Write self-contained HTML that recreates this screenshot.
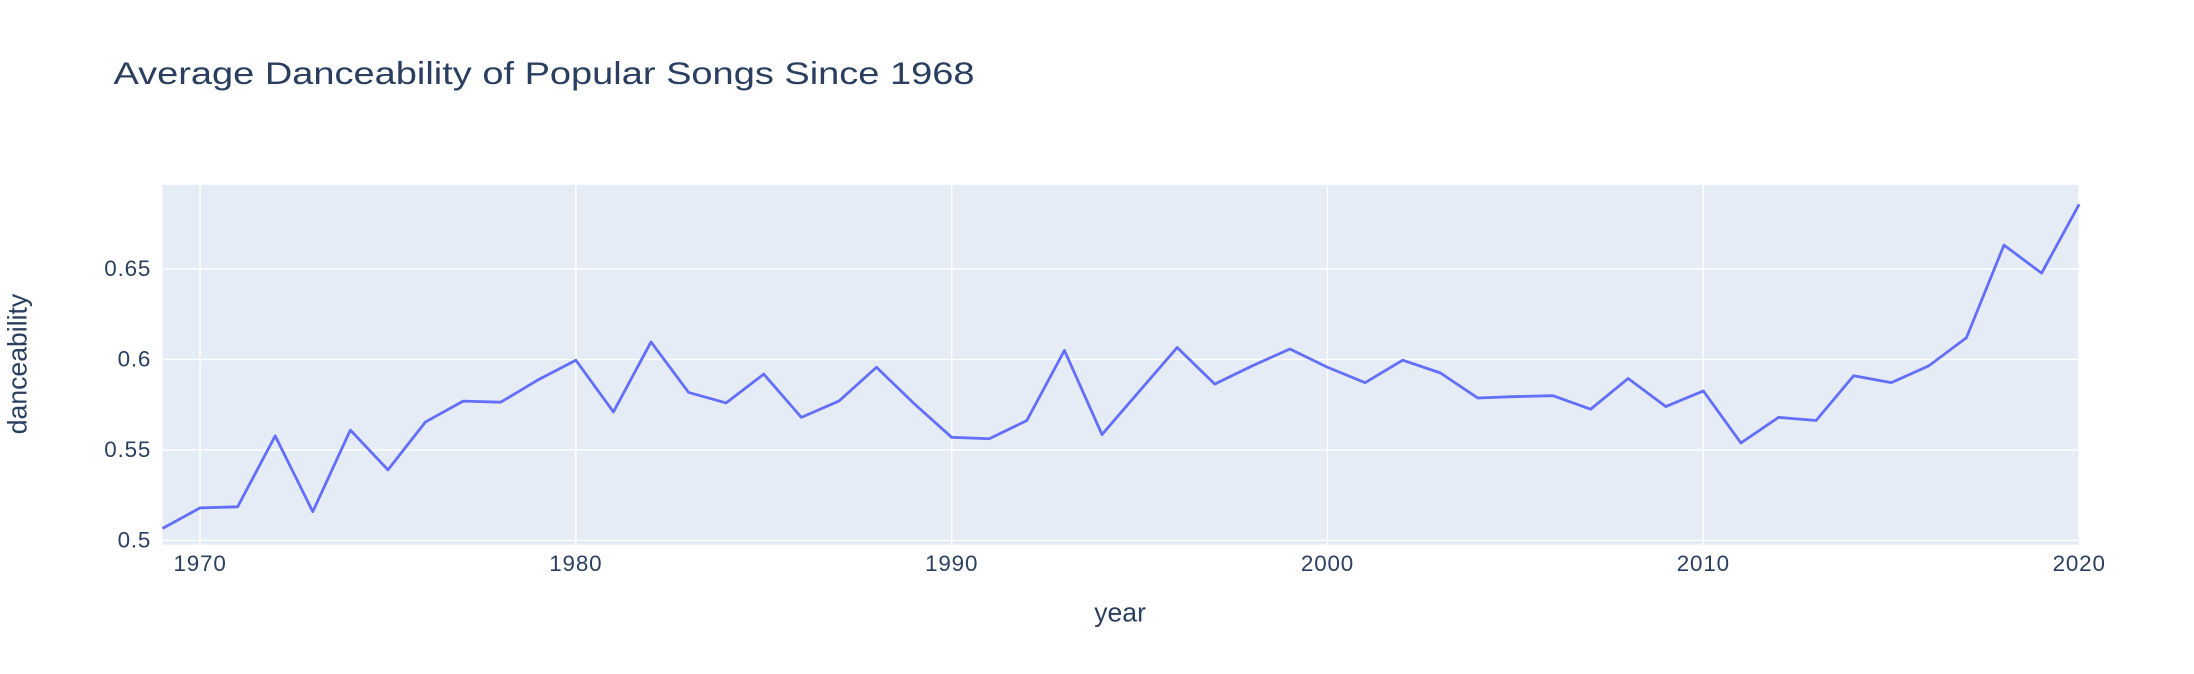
<!DOCTYPE html>
<html><head><meta charset="utf-8"><style>
html,body{margin:0;padding:0;background:#fff;}
svg{display:block;font-family:"Liberation Sans",Arial,sans-serif;}
</style></head><body>
<svg id="chart" width="2194" height="674" viewBox="0 0 1567 481.4" xmlns="http://www.w3.org/2000/svg">
<rect x="0" y="0" width="1567" height="481.4" fill="#fff"/>
<text x="81" y="60" font-size="22.5" fill="#2a3f5f" textLength="615" lengthAdjust="spacingAndGlyphs">Average Danceability of Popular Songs Since 1968</text>
<rect x="116" y="132" width="1369" height="257" fill="#e5ecf6"/>
<g id="grid"></g>
<g id="ticks"></g>
<path id="line" fill="none" stroke="#636efa" stroke-width="2" stroke-linejoin="round"/>
<text x="800" y="444" font-size="19" fill="#2a3f5f" text-anchor="middle">year</text>
<text x="19" y="260" font-size="19" fill="#2a3f5f" text-anchor="middle" transform="rotate(-90 19 260)">danceability</text>
</svg>
<script>
const years = [1969,1970,1971,1972,1973,1974,1975,1976,1977,1978,1979,1980,1981,1982,1983,1984,1985,1986,1987,1988,1989,1990,1991,1992,1993,1994,1995,1996,1997,1998,1999,2000,2001,2002,2003,2004,2005,2006,2007,2008,2009,2010,2011,2012,2013,2014,2015,2016,2017,2018,2019,2020];
const danceability = [0.5066,0.518,0.5186,0.5578,0.5159,0.561,0.539,0.5655,0.577,0.5764,0.5888,0.5996,0.571,0.6097,0.5818,0.576,0.5919,0.568,0.577,0.5957,0.5756,0.557,0.5562,0.5663,0.605,0.5585,0.5826,0.6066,0.5864,0.5965,0.6058,0.5957,0.5872,0.5996,0.5926,0.5787,0.5795,0.580,0.5725,0.5895,0.574,0.5826,0.5539,0.568,0.5663,0.591,0.5872,0.5965,0.612,0.6632,0.6477,0.6857];
const xTicks = [1970,1980,1990,2000,2010,2020];
const yTicks = [0.5,0.55,0.6,0.65];
const yTickLabels = ["0.5","0.55","0.6","0.65"];

const X0=116,X1=1485,Y0=132,Y1=389;
const xMin=1969,xMax=2020,yMin=0.4977,yMax=0.6965;
function xs(v){return X0+(v-xMin)/(xMax-xMin)*(X1-X0);}
function ys(v){return Y1-(v-yMin)/(yMax-yMin)*(Y1-Y0);}
const NS="http://www.w3.org/2000/svg";
const grid=document.getElementById('grid'), ticks=document.getElementById('ticks');
xTicks.forEach(t=>{
  const l=document.createElementNS(NS,'line');
  
  
  l.setAttribute('x1',xs(t));l.setAttribute('x2',xs(t));l.setAttribute('y1',Y0);l.setAttribute('y2',Y1);
  l.setAttribute('stroke','#fff');l.setAttribute('stroke-width','1');
  grid.appendChild(l);
  const tx=document.createElementNS(NS,'text');
  
  
  tx.setAttribute('x',xs(t));tx.setAttribute('y',408);tx.setAttribute('font-size','16');
  tx.setAttribute('fill','#2a3f5f');tx.setAttribute('text-anchor','middle');
  tx.setAttribute('letter-spacing','0.6');
  tx.textContent=t;ticks.appendChild(tx);
});
yTicks.forEach((t,i)=>{
  const l=document.createElementNS(NS,'line');
  
  
  l.setAttribute('x1',X0);l.setAttribute('x2',X1);l.setAttribute('y1',ys(t));l.setAttribute('y2',ys(t));
  l.setAttribute('stroke','#fff');l.setAttribute('stroke-width','1');
  grid.appendChild(l);
  const tx=document.createElementNS(NS,'text');
  
  
  tx.setAttribute('x',X0-8);tx.setAttribute('y',ys(t)+5);tx.setAttribute('font-size','16');
  tx.setAttribute('fill','#2a3f5f');tx.setAttribute('text-anchor','end');
  tx.setAttribute('letter-spacing','0.6');
  tx.textContent=yTickLabels[i];ticks.appendChild(tx);
});
document.getElementById('line').setAttribute('d',years.map((y,i)=>(i?'L':'M')+xs(y).toFixed(2)+','+ys(danceability[i]).toFixed(2)).join(''));
</script>
</body></html>
